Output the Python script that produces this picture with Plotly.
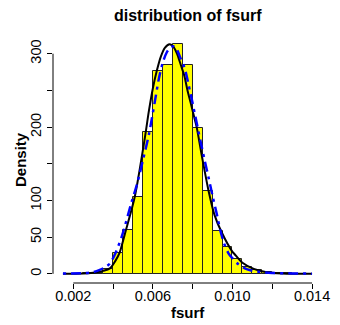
import plotly.graph_objects as go

# Histogram (density scale), bins of width 0.0005
bin_left = [0.0020, 0.0025, 0.0030, 0.0035, 0.0040, 0.0045, 0.0050, 0.0055,
            0.0060, 0.0065, 0.0070, 0.0075, 0.0080, 0.0085, 0.0090, 0.0095,
            0.0100, 0.0105, 0.0110, 0.0115, 0.0120, 0.0125, 0.0130]
bin_density = [0.3, 0.5, 1.5, 7, 28.6, 60, 105, 193,
               277, 285, 313, 285, 199, 113, 58, 36.5,
               20.5, 9.5, 5.5, 2.5, 1.0, 0.5, 0.3]
bin_width = 0.0005

# Black solid fitted density
fit_x = [0.00148, 0.0025, 0.0030, 0.0035, 0.00384, 0.0041, 0.00433, 0.00455, 0.00465,
         0.00509, 0.0056, 0.0058, 0.0060, 0.0062, 0.0064, 0.0066, 0.00684,
         0.0070, 0.0072, 0.0074, 0.00758, 0.00774, 0.0079, 0.0081, 0.0082,
         0.0085, 0.0088, 0.0091, 0.00945, 0.0100, 0.0101, 0.0105, 0.01107,
         0.01172, 0.0125, 0.0140]
fit_y = [0, 0.3, 1.5, 4, 7.5, 17, 29, 50, 60,
         105, 186, 222, 253, 277, 296, 308, 313,
         310.5, 301, 285, 270, 250, 233, 211, 200,
         155, 113, 80, 57, 30, 27, 15, 6.8,
         2.2, 0.6, 0]

# Blue dot-dash kernel density
kde_x = [0.00148, 0.0025, 0.0030, 0.0033, 0.0036, 0.00384, 0.0041, 0.00445,
         0.0049, 0.0052, 0.0055, 0.0058, 0.0061, 0.0063, 0.0065, 0.0067,
         0.0069, 0.00706, 0.0072, 0.0074, 0.0076, 0.0078, 0.0080, 0.0082,
         0.0084, 0.0086, 0.0088, 0.0090, 0.0092, 0.0094, 0.0096, 0.0098,
         0.0100, 0.0103, 0.01075, 0.0114, 0.0120, 0.0130, 0.0140]
kde_y = [0.3, 0.8, 2.5, 5, 9, 14, 27, 52,
         95, 122, 155, 190, 235, 266, 288, 302,
         309, 310, 306, 293, 280, 257, 232, 206,
         180, 155, 131, 106, 83, 58, 40, 28,
         21, 13, 6, 2.5, 1.2, 0.6, 0.2]

x_ticks = [0.002, 0.004, 0.006, 0.008, 0.010, 0.012, 0.014]
x_ticktext = ["0.002", "", "0.006", "", "0.010", "", "0.014"]
y_ticks = [0, 50, 100, 150, 200, 250, 300]
y_ticktext = ["0", "50", "100", "", "200", "", "300"]

FONT = "Liberation Sans, Arial, Helvetica, sans-serif"

fig = go.Figure()
fig.add_trace(go.Bar(
    x=[l + bin_width / 2 for l in bin_left], y=bin_density, width=bin_width,
    marker=dict(color="#FFFF00", line=dict(color="#222222", width=1)),
    showlegend=False, hoverinfo="skip"))
fig.add_trace(go.Scatter(
    x=fit_x, y=fit_y, mode="lines",
    line=dict(color="black", width=2, shape="spline", smoothing=0.8),
    showlegend=False))
fig.add_trace(go.Scatter(
    x=kde_x, y=kde_y, mode="lines",
    line=dict(color="#0000FF", width=2.5, shape="spline", smoothing=0.8,
              dash="3px,5px,10px,5px"),
    showlegend=False))

fig.update_layout(
    width=340, height=325,
    margin=dict(l=53, r=10, t=35, b=42),
    paper_bgcolor="white", plot_bgcolor="white",
    bargap=0,
    font=dict(family=FONT, color="black", size=14),
    xaxis=dict(range=[0.00098, 0.0145], tickvals=x_ticks, ticktext=x_ticktext,
               ticks="outside", ticklen=5, tickcolor="black", tickwidth=1,
               ticklabelstandoff=-5,
               showgrid=False, zeroline=False, showline=False,
               tickfont=dict(size=14.5, family=FONT)),
    yaxis=dict(range=[-12.5, 325.5], tickvals=y_ticks, ticktext=y_ticktext,
               tickangle=-90, ticks="outside", ticklen=5, tickcolor="black",
               tickwidth=1, showgrid=False, zeroline=False, showline=False,
               tickfont=dict(size=14.5, family=FONT)),
    shapes=[
        dict(type="line", xref="x", yref="paper", x0=x_ticks[0], x1=x_ticks[-1],
             y0=0, y1=0, line=dict(color="black", width=1)),
        dict(type="line", xref="paper", yref="y", x0=0, x1=0,
             y0=y_ticks[0], y1=y_ticks[-1], line=dict(color="black", width=1)),
    ],
    annotations=[
        dict(text="<b>distribution of fsurf</b>", xref="paper", yref="paper",
             x=0.5, y=1 + (35 - 15.5) / 248, xanchor="center", yanchor="middle",
             showarrow=False, font=dict(size=16, family=FONT)),
        dict(text="<b>fsurf</b>", xref="paper", yref="paper",
             x=0.5, y=-(312 - 283) / 248, xanchor="center", yanchor="middle",
             showarrow=False, font=dict(size=15, family=FONT)),
        dict(text="<b>Density</b>", xref="paper", yref="paper",
             x=-(53 - 19) / 277, y=0.5, xanchor="center", yanchor="middle",
             textangle=-90, showarrow=False, font=dict(size=15, family=FONT)),
    ],
)

fig.write_html("out.html")
